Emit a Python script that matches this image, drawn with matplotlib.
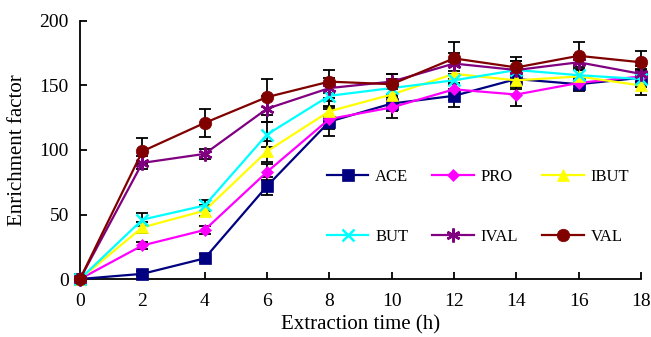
import matplotlib
matplotlib.use("Agg")
import matplotlib.pyplot as plt

plt.rcParams['font.family'] = ['Liberation Serif', 'DejaVu Serif']

# Data
TIME = [0, 2, 4, 6, 8, 10, 12, 14, 16, 18]

ACE = [0, 4, 16, 72, 122, 136, 142, 155, 151, 156]
PRO = [0, 26, 38, 83, 124, 133, 147, 143, 152, 157]
IBUT = [0, 40, 53, 99, 130, 143, 159, 154, 157, 150]
BUT = [0, 46, 57, 112, 142, 148, 154, 162, 158, 155]
IVAL = [0, 90, 97, 132, 148, 153, 167, 162, 168, 159]
VAL = [0, 99, 121, 141, 153, 151, 171, 164, 173, 168]

ACE_ERR = [0, 2, 3, 7, 11, 6, 9, 6, 5, 6]
PRO_ERR = [0, 3, 3, 6, 8, 8, 8, 9, 5, 6]
IBUT_ERR = [0, 4, 4, 8, 8, 7, 7, 7, 6, 7]
BUT_ERR = [0, 5, 4, 10, 8, 7, 7, 7, 6, 6]
IVAL_ERR = [0, 5, 4, 10, 8, 6, 8, 7, 6, 6]
VAL_ERR = [0, 10, 11, 14, 9, 8, 13, 8, 11, 9]

SERIES = [
    ("ACE", ACE, ACE_ERR, "#000080", "s", 8),
    ("PRO", PRO, PRO_ERR, "#FF00FF", "D", 6.5),
    ("IBUT", IBUT, IBUT_ERR, "#FFFF00", "^", 8.5),
    ("BUT", BUT, BUT_ERR, "#00FFFF", "x", 9),
    ("IVAL", IVAL, IVAL_ERR, "#800080", (6, 2, 0), 10),
    ("VAL", VAL, VAL_ERR, "#800000", "o", 9),
]

fig = plt.figure(figsize=(6.51, 3.37), dpi=100)
ax = fig.add_axes([0.1229, 0.1721, 0.8617, 0.7656])

handles = {}
for name, vals, err, color, marker, ms in SERIES:
    ax.errorbar(TIME, vals, yerr=err, fmt="none", ecolor="black",
                elinewidth=1.3, capsize=4, capthick=1.3, zorder=2, clip_on=False)
    line, = ax.plot(TIME, vals, color=color, marker=marker, markersize=ms,
                    linewidth=1.6, markeredgewidth=1.8 if marker in ("x", (6, 2, 0)) else 0.5,
                    markeredgecolor=color, label=name, zorder=3, clip_on=False)
    handles[name] = line

ax.set_xlim(0, 18)
ax.set_ylim(0, 200)
ax.set_xticks(range(0, 19, 2))
ax.set_yticks(range(0, 201, 50))
ax.spines['top'].set_visible(False)
ax.spines['right'].set_visible(False)
ax.spines['left'].set_linewidth(1.3)
ax.spines['bottom'].set_linewidth(1.3)
ax.tick_params(direction="in", length=5, width=1.3, labelsize=14)
ax.tick_params(axis="x", pad=10)
ax.tick_params(axis="y", pad=8)

ax.set_xlabel("Extraction time (h)", fontsize=15, labelpad=4)
ax.set_ylabel("Enrichment factor", fontsize=15, labelpad=9)

order = ["ACE", "BUT", "PRO", "IVAL", "IBUT", "VAL"]
ax.legend([handles[n] for n in order], order, ncol=3, frameon=False,
          fontsize=12, loc="center left", bbox_to_anchor=(0.44, 0.28),
          borderpad=0, borderaxespad=0,
          handlelength=2.5, labelspacing=2.65, columnspacing=1.45, handletextpad=0.4)

fig.savefig("out.png", dpi=100)
